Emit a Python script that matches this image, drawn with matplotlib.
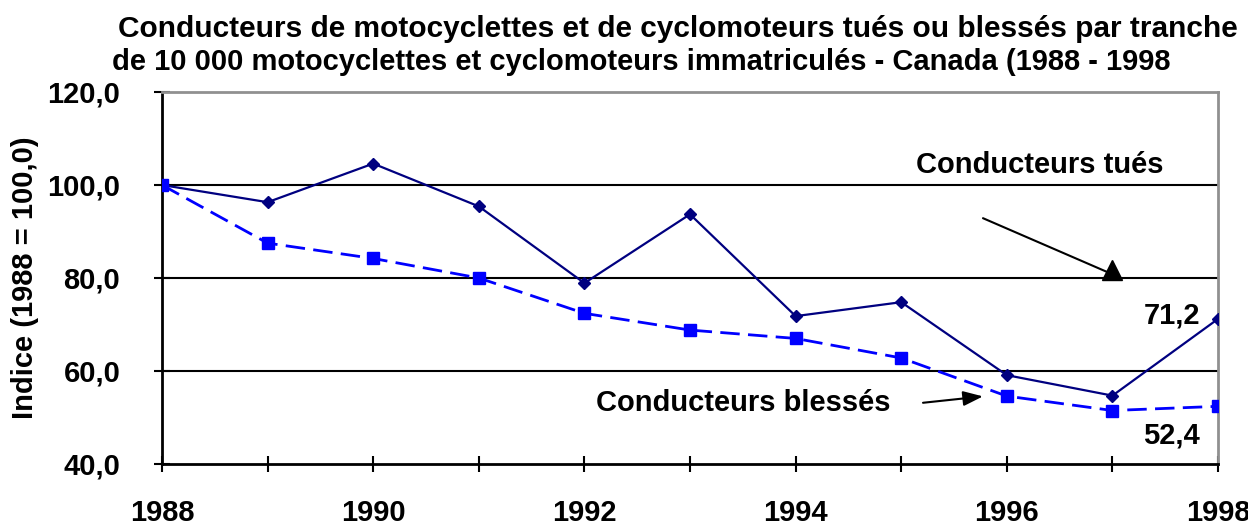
import matplotlib.pyplot as plt

plt.rcParams['font.family'] = ['Liberation Sans', 'DejaVu Sans']
plt.rcParams['font.weight'] = 'bold'

annees = [1988, 1989, 1990, 1991, 1992, 1993, 1994, 1995, 1996, 1997, 1998]
tues = [100.0, 96.3, 104.6, 95.4, 78.9, 93.7, 71.8, 74.8, 59.1, 54.7, 71.2]
blesses = [100.0, 87.5, 84.2, 80.0, 72.4, 68.8, 67.0, 62.8, 54.6, 51.5, 52.4]
etiquettes_x = ['1988', '', '1990', '', '1992', '', '1994', '', '1996', '', '1998']
etiquettes_y = ['40,0', '60,0', '80,0', '100,0', '120,0']

fig = plt.figure(figsize=(12.48, 5.26), dpi=100)
ax = fig.add_axes([0.1298, 0.1179, 0.8462, 0.7072])

for v in [60, 80, 100]:
    ax.axhline(v, color='black', lw=1.5, zorder=1)

ax.plot(annees, tues, color='#000080', lw=1.6, marker='D', markersize=6, zorder=3)
ax.plot(annees, blesses, color='#0000FF', lw=2, dashes=(7, 3), marker='s',
        markersize=8, zorder=3)

ax.set_xlim(1988, 1998)
ax.set_ylim(40, 120)
ax.set_xticks(annees)
ax.set_xticklabels(etiquettes_x)
ax.set_yticks([40, 60, 80, 100, 120])
ax.set_yticklabels(etiquettes_y)
ax.tick_params(axis='x', direction='inout', length=11, width=1.5, labelsize=21, pad=20)
ax.tick_params(axis='y', direction='inout', length=12, width=1.5, labelsize=21, pad=24)

for s in ['left', 'bottom']:
    ax.spines[s].set_linewidth(2)
    ax.spines[s].set_color('black')
for s in ['top', 'right']:
    ax.spines[s].set_linewidth(2)
    ax.spines[s].set_color('#909090')

ax.set_ylabel('Indice (1988 = 100,0)', fontsize=21, fontweight='bold', labelpad=6)

fig.text(0.0946, 0.9297, 'Conducteurs de motocyclettes et de cyclomoteurs tués ou blessés par tranche',
         fontsize=21.5, fontweight='bold', ha='left', va='baseline')
fig.text(0.0897, 0.867, 'de 10 000 motocyclettes et cyclomoteurs immatriculés - Canada (1988 - 1998',
         fontsize=21, fontweight='bold', ha='left', va='baseline')

ax.text(1996.31, 104.3, 'Conducteurs tués', fontsize=21, fontweight='bold', ha='center', va='center')
ax.annotate('', xy=(1997.0, 80.8), xytext=(1995.75, 93.1),
            arrowprops=dict(arrowstyle='-', color='black', lw=1.5))
ax.plot([1997.0], [81.8], marker='^', color='black', markersize=15, zorder=4, clip_on=False)

ax.text(1993.5, 53.1, 'Conducteurs blessés', fontsize=21, fontweight='bold', ha='center', va='center')
ax.annotate('', xy=(1995.8, 54.6), xytext=(1995.18, 53.1),
            arrowprops=dict(arrowstyle='-|>,head_length=1.2,head_width=0.45', color='black', lw=1.5))

ax.text(1997.56, 72.0, '71,2', fontsize=21, fontweight='bold', ha='center', va='center')
ax.text(1997.56, 46.2, '52,4', fontsize=21, fontweight='bold', ha='center', va='center')

fig.savefig('out.png', dpi=100)
